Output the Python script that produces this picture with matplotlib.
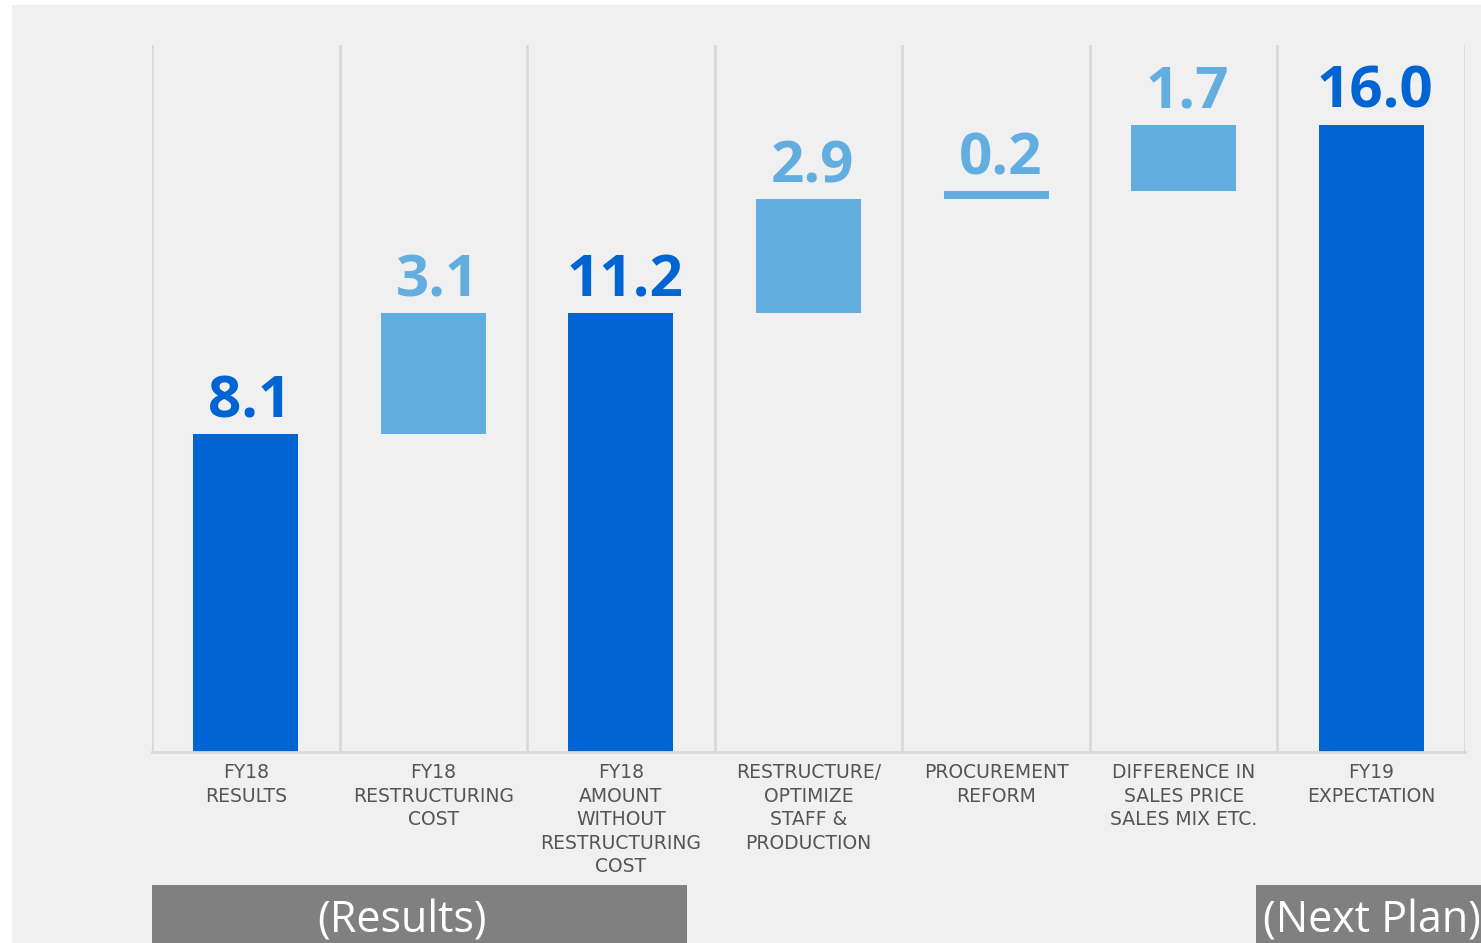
import matplotlib
matplotlib.use("Agg")
import matplotlib.pyplot as plt
from matplotlib.patches import Rectangle

categories = [
    "FY18\nRESULTS",
    "FY18\nRESTRUCTURING\nCOST",
    "FY18\nAMOUNT\nWITHOUT\nRESTRUCTURING\nCOST",
    "RESTRUCTURE/\nOPTIMIZE\nSTAFF &\nPRODUCTION",
    "PROCUREMENT\nREFORM",
    "DIFFERENCE IN\nSALES PRICE\nSALES MIX ETC.",
    "FY19\nEXPECTATION",
]
values = [8.1, 3.1, 11.2, 2.9, 0.2, 1.7, 16.0]
is_total = [True, False, True, False, False, False, True]
value_labels = ["8.1", "3.1", "11.2", "2.9", "0.2", "1.7", "16.0"]
group_labels = ["(Results)", "(Next Plan)"]

DARK = "#0064d3"
LIGHT = "#63aee0"
BG = "#f0f0f0"
GRID = "#d9d9d9"

W, H = 1481, 943
fig = plt.figure(figsize=(W / 100, H / 100), dpi=100)
fig.patch.set_facecolor("white")
fig.patches.append(Rectangle((12 / W, 0), 1 - 12 / W, (H - 5) / H,
                             transform=fig.transFigure, facecolor=BG,
                             edgecolor="none", zorder=-10))

ax = fig.add_axes([152 / W, (H - 752) / H, (1465 - 152) / W, (752 - 45) / H])
ax.set_zorder(5)
ax.set_facecolor("none")
ax.set_xlim(0, len(categories))
ax.set_ylim(0, 18.03)
for s in ["left", "top", "right"]:
    ax.spines[s].set_visible(False)
ax.spines["bottom"].set_color(GRID)
ax.spines["bottom"].set_linewidth(2)
ax.set_xticks([])
ax.set_yticks([])
for i in range(len(categories) + 1):
    ax.axvline(i, color=GRID, lw=2, zorder=1)

running = 0.0
xs = [i + 0.5 for i in range(len(categories))]
for i, (v, tot) in enumerate(zip(values, is_total)):
    if tot:
        bottom = 0.0
        running = v
        color = DARK
    else:
        bottom = running
        running += v
        color = LIGHT
    ax.bar(xs[i], v, bottom=bottom, width=0.56, color=color, zorder=2)
    ax.annotate(value_labels[i], (xs[i], bottom + v), xytext=(3, 2),
                textcoords="offset points", ha="center", va="bottom",
                fontsize=42, fontweight="bold", family="Open Sans",
                color=color, zorder=3)
    ax.annotate(categories[i], (xs[i], 0), xytext=(0, -8),
                textcoords="offset points", ha="center", va="top",
                fontsize=13.5, family="DejaVu Sans", color="#555555",
                linespacing=1.3, annotation_clip=False)

# group boxes
fig.patches.append(Rectangle((152 / W, 0), (687 - 152) / W, (943 - 885) / H,
                             transform=fig.transFigure, facecolor="#808080",
                             edgecolor="none", zorder=1))
fig.patches.append(Rectangle((1256 / W, 0), (1481 - 1256) / W, (943 - 885) / H,
                             transform=fig.transFigure, facecolor="#808080",
                             edgecolor="none", zorder=1))
fig.text(402 / W, (943 - 921) / H, group_labels[0], ha="center", va="center",
         fontsize=31, family="Open Sans", color="white", zorder=2)
fig.text(1263 / W, (943 - 921) / H, group_labels[1], ha="left", va="center",
         fontsize=31, family="Open Sans", color="white", zorder=2)

fig.savefig("out.png", dpi=100, facecolor=fig.get_facecolor())
